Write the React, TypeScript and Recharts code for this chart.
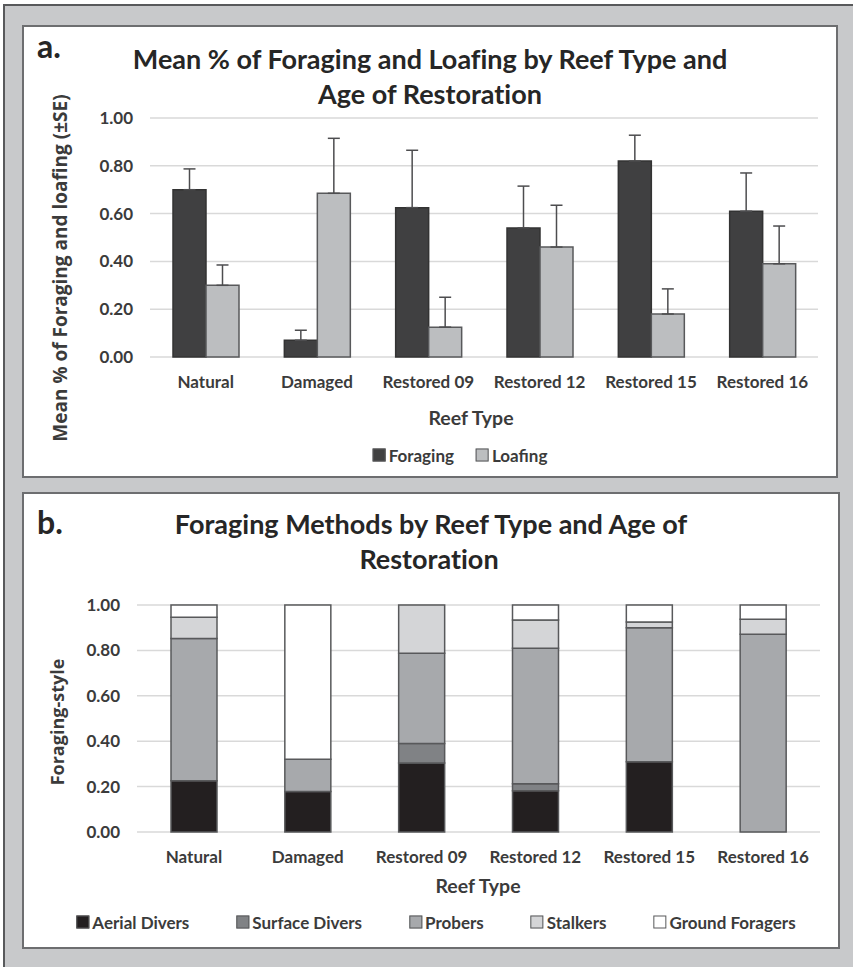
import { BarChart, Bar, XAxis, YAxis, CartesianGrid, ErrorBar } from "recharts";

// panel a: mean proportion of time spent foraging / loafing (+SE)
const reefTypes = ["Natural", "Damaged", "Restored 09", "Restored 12", "Restored 15", "Restored 16"];
const foragingMean = [0.7, 0.07, 0.625, 0.54, 0.82, 0.61];
const foragingSE = [0.087, 0.042, 0.24, 0.175, 0.108, 0.16];
const loafingMean = [0.3, 0.685, 0.125, 0.46, 0.18, 0.39];
const loafingSE = [0.085, 0.23, 0.125, 0.175, 0.105, 0.158];

// panel b: share of foraging methods
const aerialDivers = [0.226, 0.178, 0.304, 0.182, 0.31, 0];
const surfaceDivers = [0, 0, 0.086, 0.031, 0, 0];
const probers = [0.626, 0.142, 0.397, 0.596, 0.59, 0.871];
const stalkers = [0.094, 0, 0.213, 0.125, 0.025, 0.066];
const groundForagers = [0.054, 0.68, 0, 0.066, 0.075, 0.063];

const yTicks = [0, 0.2, 0.4, 0.6, 0.8, 1];

const TEXT = "#3b3b3b";
const TITLE = "#262626";
const FONT = "Lato, 'Open Sans', sans-serif";
const OUTLINE = "#58595b";

const activityData = reefTypes.map((name, i) => ({
  name,
  foraging: foragingMean[i],
  foragingErr: [0, foragingSE[i]],
  loafing: loafingMean[i],
  loafingErr: [0, loafingSE[i]],
}));

const methodData = reefTypes.map((name, i) => ({
  name,
  aerial: aerialDivers[i],
  surface: surfaceDivers[i],
  probers: probers[i],
  stalkers: stalkers[i],
  ground: groundForagers[i],
}));

const activitySeries = [
  { key: "foraging", label: "Foraging", fill: "#404041", stroke: "#333333" },
  { key: "loafing", label: "Loafing", fill: "#bcbec0", stroke: OUTLINE },
];

const methodSeries = [
  { key: "aerial", label: "Aerial Divers", fill: "#231f20" },
  { key: "surface", label: "Surface Divers", fill: "#808285" },
  { key: "probers", label: "Probers", fill: "#a7a9ac" },
  { key: "stalkers", label: "Stalkers", fill: "#d4d5d7" },
  { key: "ground", label: "Ground Foragers", fill: "#ffffff" },
];

const tickStyle = { fill: TEXT, fontSize: 17, fontWeight: 700, fontFamily: FONT };

function Label({ x, y, size, children, rotate = false, color = TEXT, family = FONT }: any) {
  return (
    <div
      style={{
        position: "absolute",
        left: x,
        top: y,
        transform: `translate(-50%, -50%)${rotate ? " rotate(-90deg)" : ""}`,
        whiteSpace: "nowrap",
        fontSize: size,
        fontWeight: 700,
        fontFamily: family,
        fontVariantLigatures: "none",
        color,
        lineHeight: 1,
      }}
    >
      {children}
    </div>
  );
}

function LegendRow({ items, x, y, gap, size }: any) {
  return (
    <div
      style={{
        position: "absolute",
        left: x,
        top: y,
        transform: "translate(-50%, -50%)",
        display: "flex",
        gap,
        alignItems: "center",
        whiteSpace: "nowrap",
        fontFamily: FONT,
        fontWeight: 700,
        fontSize: size,
        color: TEXT,
      }}
    >
      {items.map((s: any) => (
        <div key={s.key} style={{ display: "flex", alignItems: "center", gap: 3 }}>
          <span
            style={{
              display: "inline-block",
              width: 11,
              height: 11,
              background: s.fill,
              border: `1px solid ${OUTLINE}`,
            }}
          />
          {s.label}
        </div>
      ))}
    </div>
  );
}

const panelStyle: any = {
  position: "absolute",
  boxSizing: "border-box",
  background: "#ffffff",
  border: "2px solid #6d6e70",
};

export default function App() {
  return (
    <div
      style={{
        position: "absolute",
        left: 0,
        top: 0,
        width: 853,
        height: 967,
        background: "#ffffff",
        overflow: "hidden",
      }}
    >
      <div
        style={{
          position: "absolute",
          left: 3,
          top: 4,
          width: 850,
          height: 963,
          boxSizing: "border-box",
          background: "#c8c9cb",
          borderTop: "2px solid #58595b",
          borderLeft: "2px solid #58595b",
        }}
      />

      {/* panel a */}
      <div style={{ ...panelStyle, left: 22, top: 25, width: 816, height: 453 }}>
        <BarChart
          width={812}
          height={449}
          data={activityData}
          margin={{ top: 91, right: 18, bottom: 89, left: 66 }}
          barGap={0}
          barSize={33}
        >
          <CartesianGrid vertical={false} stroke="#d9d9d9" strokeWidth={1.5} />
          <XAxis dataKey="name" axisLine={false} tickLine={false} tick={tickStyle} tickMargin={13} height={30} />
          <YAxis
            domain={[0, 1]}
            ticks={yTicks}
            tickFormatter={(v: number) => v.toFixed(2)}
            axisLine={false}
            tickLine={false}
            tick={tickStyle}
            tickMargin={11}
            width={60}
          />
          {activitySeries.map((s) => (
            <Bar
              key={s.key}
              dataKey={s.key}
              fill={s.fill}
              stroke={s.stroke}
              strokeWidth={1.5}
              isAnimationActive={false}
            >
              <ErrorBar dataKey={`${s.key}Err`} width={6} stroke="#4d4d4f" strokeWidth={1.5} direction="y" />
            </Bar>
          ))}
        </BarChart>
        <Label x={25} y={19} size={32} color={TITLE}>a.</Label>
        <Label x={406} y={31} size={27} color={TITLE}>Mean % of Foraging and Loafing by Reef Type and</Label>
        <Label x={406} y={66} size={27} color={TITLE}>Age of Restoration</Label>
        <Label x={36} y={241} size={19} rotate family="'Open Sans', sans-serif">
          Mean % of Foraging and loafing (±SE)
        </Label>
        <Label x={447} y={391} size={19.5}>Reef Type</Label>
        <LegendRow items={activitySeries} x={436} y={428} gap={22} size={17} />
      </div>

      {/* panel b */}
      <div style={{ ...panelStyle, left: 22, top: 492, width: 818, height: 457 }}>
        <BarChart
          width={814}
          height={453}
          data={methodData}
          margin={{ top: 111, right: 18, bottom: 85, left: 53 }}
          barSize={46}
        >
          <CartesianGrid vertical={false} stroke="#d9d9d9" strokeWidth={1.5} />
          <XAxis dataKey="name" axisLine={false} tickLine={false} tick={tickStyle} tickMargin={13} height={30} />
          <YAxis
            domain={[0, 1]}
            ticks={yTicks}
            tickFormatter={(v: number) => v.toFixed(2)}
            axisLine={false}
            tickLine={false}
            tick={tickStyle}
            tickMargin={11}
            width={60}
          />
          {methodSeries.map((s) => (
            <Bar
              key={s.key}
              dataKey={s.key}
              stackId="m"
              fill={s.fill}
              stroke={OUTLINE}
              strokeWidth={1.5}
              isAnimationActive={false}
            />
          ))}
        </BarChart>
        <Label x={26} y={28} size={32} color={TITLE}>b.</Label>
        <Label x={407} y={29} size={27} color={TITLE}>Foraging Methods by Reef Type and Age of</Label>
        <Label x={405} y={64} size={27} color={TITLE}>Restoration</Label>
        <Label x={33} y={228} size={18} rotate family="'Open Sans', sans-serif">
          Foraging-style
        </Label>
        <Label x={454} y={392} size={19.5}>Reef Type</Label>
        <LegendRow items={methodSeries} x={412} y={428} gap={47} size={17} />
      </div>
    </div>
  );
}
